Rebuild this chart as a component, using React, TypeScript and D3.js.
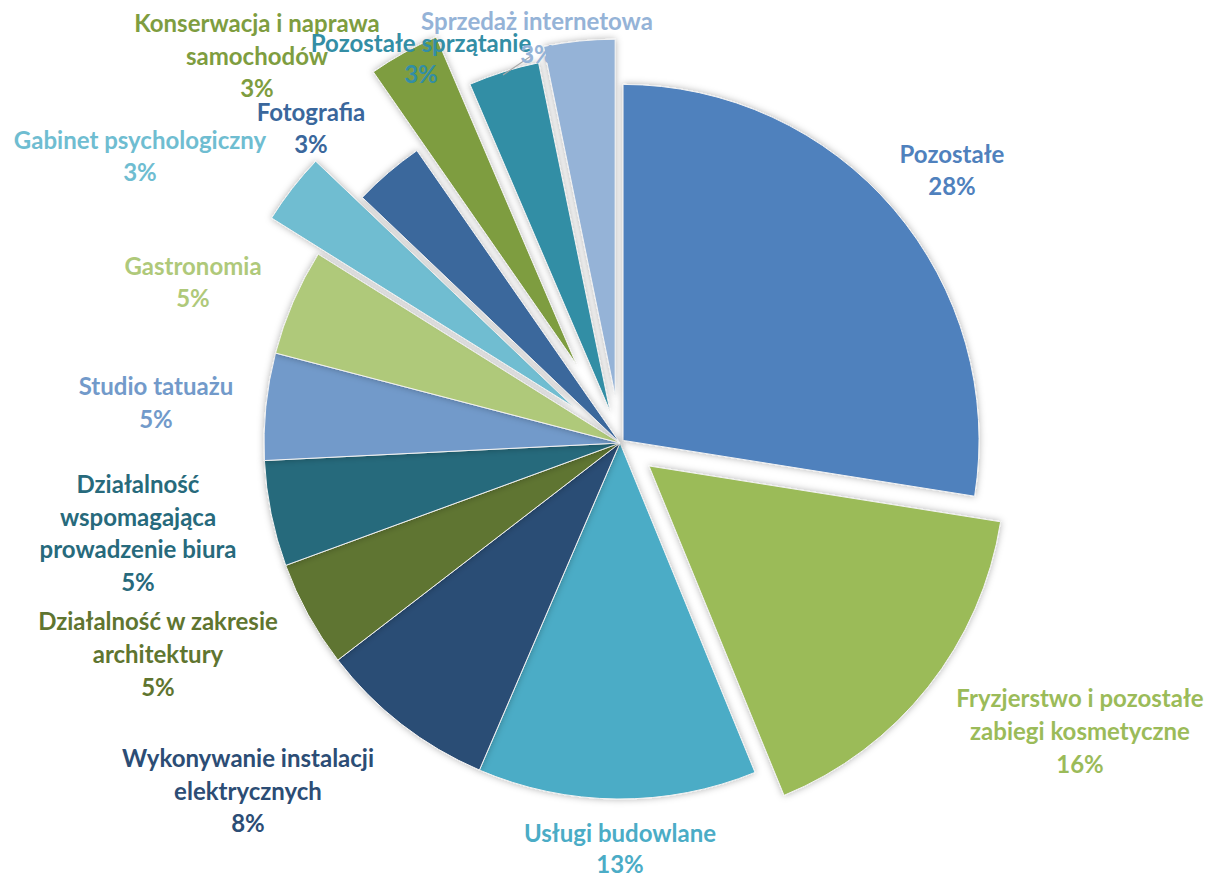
import React from 'react';
import * as d3 from 'd3';

const categories = [
  'Pozostałe',
  'Fryzjerstwo i pozostałe zabiegi kosmetyczne',
  'Usługi budowlane',
  'Wykonywanie instalacji elektrycznych',
  'Działalność w zakresie architektury',
  'Działalność wspomagająca prowadzenie biura',
  'Studio tatuażu',
  'Gastronomia',
  'Gabinet psychologiczny',
  'Fotografia',
  'Konserwacja i naprawa samochodów',
  'Pozostałe sprzątanie',
  'Sprzedaż internetowa',
];

const shares = [27.5, 16.3, 12.65, 8.1, 4.85, 4.8, 4.85, 4.83, 3.22, 3.22, 3.22, 3.22, 3.22];

const sliceColors = [
  '#4F81BD', '#9BBB59', '#4BACC6', '#2C4D75', '#5F7530', '#276A7C', '#729ACA',
  '#AFC97A', '#6FBDD1', '#3A679C', '#7E9D40', '#338EA5', '#95B3D7',
];

const explodeOffsets = [4, 37, 0, 0, 0, 0, 0, 0, 59, 0, 90, 33, 48];

const labelLines = [
  ['Pozostałe'],
  ['Fryzjerstwo i pozostałe', 'zabiegi kosmetyczne'],
  ['Usługi budowlane'],
  ['Wykonywanie instalacji', 'elektrycznych'],
  ['Działalność w zakresie', 'architektury'],
  ['Działalność', 'wspomagająca', 'prowadzenie biura'],
  ['Studio tatuażu'],
  ['Gastronomia'],
  ['Gabinet psychologiczny'],
  ['Fotografia'],
  ['Konserwacja i naprawa', 'samochodów'],
  ['Pozostałe sprzątanie'],
  ['Sprzedaż internetowa'],
];

// label anchor: center x, first baseline y, line spacing
const labelAnchors: [number, number, number][] = [
  [952, 163, 32],
  [1080, 707, 33],
  [620, 842, 31],
  [248, 767, 32.5],
  [158, 630, 33],
  [138, 493, 32.7],
  [156, 395, 33],
  [193, 275, 32],
  [140, 149, 32],
  [311, 121, 32],
  [257, 32, 32.5],
  [421, 52, 31],
  [537, 30, 33],
];

const W = 1209;
const H = 876;
const CX = 620;
const CY = 443;
const R = 356;

export default function App() {
  const pie = d3.pie<number>().sort(null).value((d) => d).startAngle(0).endAngle(2 * Math.PI);
  const arcs = pie(shares);
  const arc = d3.arc<d3.PieArcDatum<number>>().innerRadius(0).outerRadius(R);
  const total = d3.sum(shares);

  return (
    <svg
      width={W}
      height={H}
      viewBox={`0 0 ${W} ${H}`}
      style={{ position: 'absolute', left: 0, top: 0, background: '#fff' }}
      fontFamily="Lato, 'Open Sans', sans-serif"
      fontWeight="bold"
    >
      <defs>
        <filter id="sh" x="-20%" y="-20%" width="140%" height="140%">
          <feDropShadow dx="0" dy="0" stdDeviation="3.5" floodColor="#000" floodOpacity="0.3" />
        </filter>
      </defs>
      <g transform={`translate(${CX},${CY})`}>
        {arcs.map((a, i) => {
          const mid = (a.startAngle + a.endAngle) / 2;
          const d = explodeOffsets[i];
          const tx = d * Math.sin(mid);
          const ty = -d * Math.cos(mid);
          return (
            <path
              key={i}
              d={arc(a) || ''}
              transform={`translate(${tx},${ty})`}
              fill={sliceColors[i]}
              stroke="#f2f2f2"
              strokeWidth={1}
              filter="url(#sh)"
            />
          );
        })}
      </g>
      <line x1={503} y1={75} x2={531} y2={56} stroke="#a6a6a6" strokeWidth={1.2} />
      {categories.map((c, i) => {
        const [x, y, lh] = labelAnchors[i];
        const lines = [...labelLines[i], `${Math.round((shares[i] / total) * 100)}%`];
        return (
          <text key={c} textAnchor="middle" fill={sliceColors[i]} fontSize={24}>
            {lines.map((t, j) => (
              <tspan key={j} x={x} y={y + j * lh}>
                {t}
              </tspan>
            ))}
          </text>
        );
      })}
    </svg>
  );
}
